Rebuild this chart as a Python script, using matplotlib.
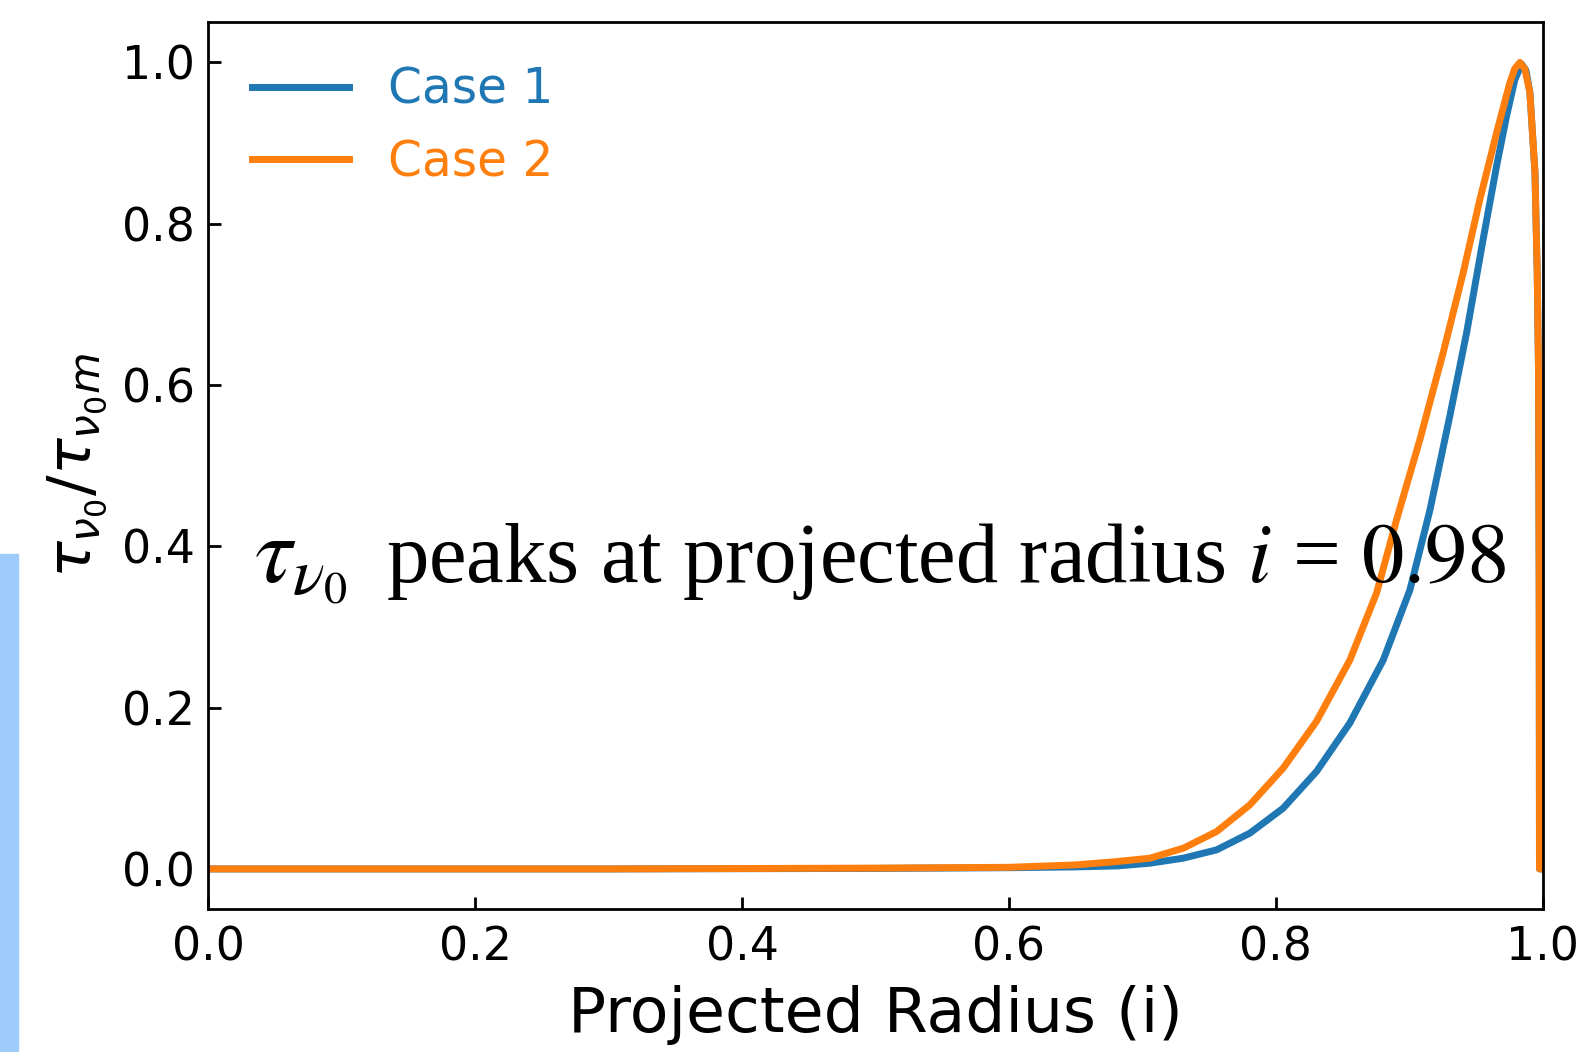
import numpy as np
import matplotlib
matplotlib.use('Agg')
import matplotlib.pyplot as plt
from matplotlib.patches import Rectangle

# values
x_case1 = [0.0, 0.1, 0.2, 0.3, 0.4, 0.5, 0.6, 0.65, 0.681, 0.7056, 0.7306, 0.7556, 0.7805,
           0.8055, 0.8305, 0.8555, 0.8805, 0.9005, 0.9155, 0.9304, 0.943, 0.9554, 0.9655,
           0.973, 0.9792, 0.9842, 0.9875, 0.9904, 0.9942, 0.9959, 0.9969, 0.9974, 0.9976, 1.0]
y_case1 = [0.0, 0.0, 0.0, 0.0, 0.0003, 0.0006, 0.0015, 0.0025, 0.0037, 0.0071, 0.0133, 0.0236, 0.0443,
           0.0753, 0.1208, 0.181, 0.259, 0.346, 0.445, 0.5615, 0.665, 0.781, 0.872,
           0.934, 0.979, 0.998, 0.99, 0.963, 0.864, 0.739, 0.615, 0.346, 0.0, 0.0]

x_case2 = [0.0, 0.1, 0.2, 0.3, 0.4, 0.5, 0.6, 0.65, 0.68, 0.7056, 0.7306, 0.7556, 0.7805,
           0.8055, 0.8305, 0.8555, 0.8755, 0.8905, 0.908, 0.9254, 0.9404, 0.9529, 0.9655, 0.9754,
           0.979, 0.9829, 0.9866, 0.9904, 0.9942, 0.9959, 0.9969, 0.9974, 0.9976, 1.0]
y_case2 = [0.0, 0.0, 0.0, 0.0, 0.0005, 0.001, 0.002, 0.005, 0.009, 0.0133, 0.0257, 0.0463, 0.0794,
           0.125, 0.183, 0.259, 0.342, 0.433, 0.5325, 0.640, 0.739, 0.830, 0.913, 0.975,
           0.992, 1.0, 0.992, 0.963, 0.864, 0.739, 0.615, 0.346, 0.0, 0.0]

labels = ['Case 1', 'Case 2']
note_math = r'$\tau_{\nu_0}$'
note_text = r'peaks at projected radius $i$ = $0.98$'

fig = plt.figure(figsize=(15.79, 10.52), dpi=100)
ax = fig.add_axes([0.1320, 0.1357, 0.8450, 0.8433])

ax.plot(x_case1, y_case1, color='tab:blue', lw=5, label=labels[0])
ax.plot(x_case2, y_case2, color='tab:orange', lw=5, label=labels[1])

ax.set_xlim(0, 1)
ax.set_ylim(-0.05, 1.05)
ax.set_xticks([0.0, 0.2, 0.4, 0.6, 0.8, 1.0])
ax.set_yticks([0.0, 0.2, 0.4, 0.6, 0.8, 1.0])
ax.tick_params(direction='in', length=9, width=2, labelsize=33)
ax.tick_params(axis='x', pad=12)
ax.tick_params(axis='y', pad=10)
for s in ax.spines.values():
    s.set_linewidth(2)

ax.set_xlabel('Projected Radius (i)', fontsize=45.5, labelpad=10)
ax.set_ylabel(r'$\tau_{\nu_0}/\tau_{\nu_0 m}$', fontsize=44, labelpad=8)

ax.legend(loc='upper left', fontsize=35, frameon=False, labelcolor='linecolor')

serif = ['Liberation Serif', 'DejaVu Serif']
ax.text(0.034, 0.356, note_math, fontsize=68, family=serif, math_fontfamily='stix')
ax.text(0.1328, 0.356, note_text, fontsize=61, family=serif, math_fontfamily='stix')

# light blue strip on the left edge of the screenshot
fig.patches.append(Rectangle((0, 0), 0.0115, 0.4734, transform=fig.transFigure,
                             color='#9fcbfb', zorder=0))

fig.savefig('out.png', dpi=100)
